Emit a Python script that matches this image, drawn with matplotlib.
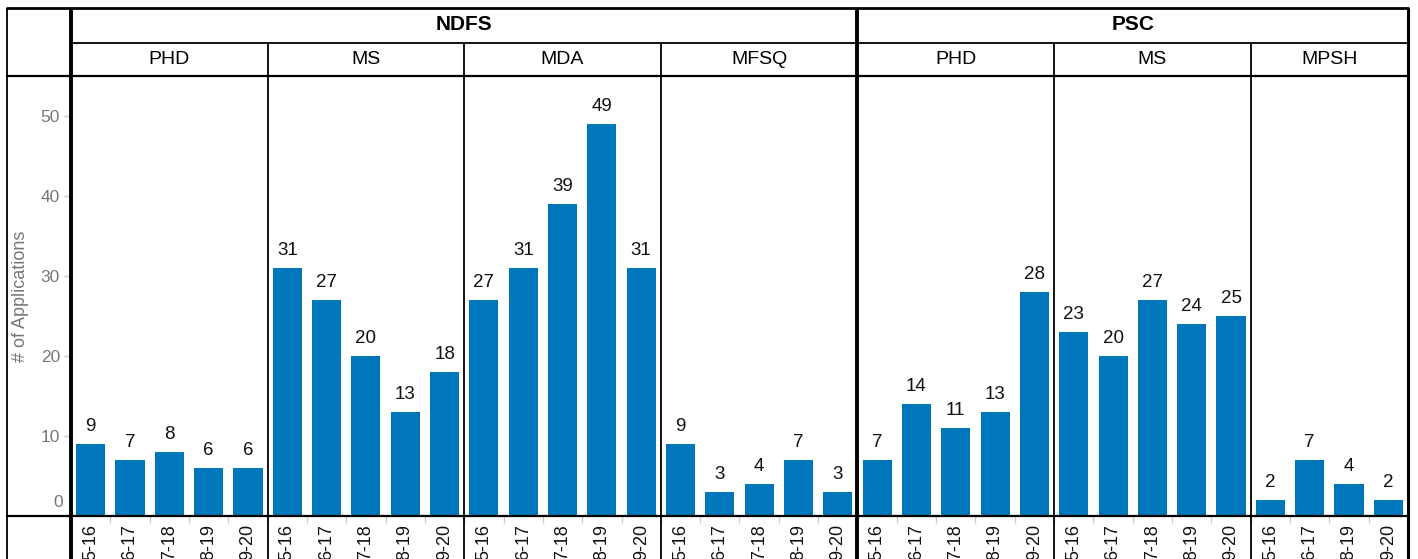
import numpy as np
import matplotlib.pyplot as plt
from matplotlib.transforms import blended_transform_factory

plt.rcParams['font.family'] = ['Liberation Sans', 'DejaVu Sans']

# data
groups = ["NDFS", "PSC"]
panels = [("NDFS", "PHD"), ("NDFS", "MS"), ("NDFS", "MDA"), ("NDFS", "MFSQ"),
          ("PSC", "PHD"), ("PSC", "MS"), ("PSC", "MPSH")]
years_full = ["5-16", "6-17", "7-18", "8-19", "9-20"]
years_mpsh = ["5-16", "6-17", "8-19", "9-20"]
ndfs_phd = [9, 7, 8, 6, 6]
ndfs_ms = [31, 27, 20, 13, 18]
ndfs_mda = [27, 31, 39, 49, 31]
ndfs_mfsq = [9, 3, 4, 7, 3]
psc_phd = [7, 14, 11, 13, 28]
psc_ms = [23, 20, 27, 24, 25]
psc_mpsh = [2, 7, 4, 2]

panel_values = [ndfs_phd, ndfs_ms, ndfs_mda, ndfs_mfsq, psc_phd, psc_ms, psc_mpsh]
panel_years = [years_full] * 6 + [years_mpsh]

BLUE = "#0077BB"
GREY = "#777777"

W, H = 1418, 559
fig = plt.figure(figsize=(W / 100, H / 100), dpi=100)
x0, x1, y0, y1 = 71, 1408, 76, 516
ax = fig.add_axes([x0 / W, 1 - y1 / H, (x1 - x0) / W, (y1 - y0) / H])

vals, labels, starts = [], [], []
for v, yrs in zip(panel_values, panel_years):
    starts.append(len(vals))
    vals += v
    labels += yrs
pos = np.arange(len(vals))

ax.bar(pos, vals, width=0.74, color=BLUE)
for p, v in zip(pos, vals):
    ax.text(p, v + 1.1, str(v), ha="center", va="bottom", fontsize=13.5, color="#111111")

ax.set_xlim(-0.5, len(vals) - 0.5)
ax.set_ylim(0, 55)
for s in ax.spines.values():
    s.set_visible(False)

ax.set_xticks(pos)
ax.set_xticklabels(labels, rotation=90, fontsize=13, color="#111111")
ax.set_xticks(pos[:-1] + 0.5, minor=True)
ax.tick_params(axis="x", which="major", length=0, pad=6)
ax.tick_params(axis="x", which="minor", length=5, color="#cccccc", width=1)
for t in ax.get_xticklabels():
    t.set_va("top")

ax.set_yticks([0, 10, 20, 30, 40, 50])
ax.set_yticklabels(["", "10", "20", "30", "40", "50"], fontsize=12.5, color=GREY)
ax.tick_params(axis="y", length=5, color="#cccccc", width=1, pad=3)
yt = blended_transform_factory(ax.transAxes, ax.transData)
ax.text(-8 / (x1 - x0), 0.8, "0", transform=yt, ha="right", va="bottom", fontsize=12.5, color=GREY)
ax.set_ylabel("# of Applications", fontsize=13, color=GREY)
ax.yaxis.set_label_coords((29 - x0) / (x1 - x0), 0.5)

# frame lines in axes fraction
def fx(px):
    return (px - x0) / (x1 - x0)

def fy(py):
    return (y1 - py) / (y1 - y0)

def line(xs, ys, lw=1.3):
    ax.plot([fx(x) for x in xs], [fy(y) for y in ys], color="black", lw=lw,
            transform=ax.transAxes, clip_on=False, solid_capstyle="butt")

line([6, 1409], [8, 8], 2)
line([x0, x1], [43, 43])
line([6, x1], [76, 76], 1.6)
line([6, x1], [516, 516], 1.6)
line([7, 7], [8, H])
line([x1, x1], [8, H], 2.2)
line([x0, x0], [8, H], 2.8)

# panel separators and headers
bt = blended_transform_factory(ax.transData, ax.transAxes)
sub_y = fy(59.5)
grp_y = fy(25)
ends = starts[1:] + [len(vals)]
for (g, name), s, e in zip(panels, starts, ends):
    ax.text((s + e - 1) / 2, sub_y, name, transform=bt, ha="center", va="center", fontsize=14)
    if s > 0:
        thick = panels[starts.index(s) - 1][0] != g
        ax.plot([s - 0.5, s - 0.5], [fy(H), fy(8) if thick else fy(43)], color="black",
                lw=2.8 if thick else 1.3, transform=bt, clip_on=False, solid_capstyle="butt")
for g in groups:
    idx = [i for i, (gg, _) in enumerate(panels) if gg == g]
    s, e = starts[idx[0]], ends[idx[-1]]
    ax.text((s + e - 1) / 2, grp_y, g, transform=bt, ha="center", va="center",
            fontsize=15, fontweight="bold")

fig.savefig("out.png", dpi=100)
